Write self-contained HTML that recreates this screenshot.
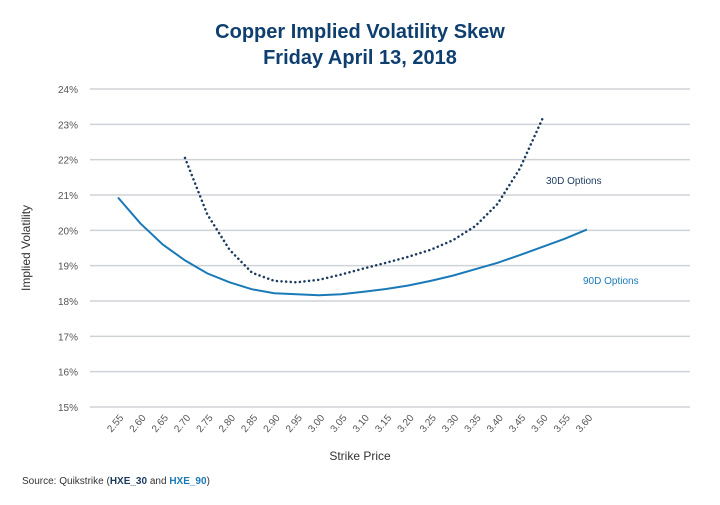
<!DOCTYPE html>
<html><head><meta charset="utf-8"><style>
body{margin:0;background:#fff;font-family:"Liberation Sans",sans-serif}
</style></head><body>
<svg width="720" height="500" xmlns="http://www.w3.org/2000/svg">
<text x="360" y="38" text-anchor="middle" font-size="20" font-weight="bold" fill="#0f3f6f">Copper Implied Volatility Skew</text>
<text x="360" y="64" text-anchor="middle" font-size="20" font-weight="bold" fill="#0f3f6f">Friday April 13, 2018</text>
<g id="grid"></g><g id="ylabels"></g><g id="xlabels"></g><g id="series"></g>
<text x="30" y="248" transform="rotate(-90 30 248)" text-anchor="middle" font-size="12" fill="#333">Implied Volatility</text>
<text x="360" y="460" text-anchor="middle" font-size="12" fill="#333">Strike Price</text>
<text x="546" y="184" font-size="10" fill="#1c3a5e">30D Options</text>
<text x="583" y="284" font-size="10" fill="#1a7ab8">90D Options</text>
<text x="22" y="484" font-size="10" fill="#333">Source: Quikstrike (<tspan font-weight="bold" fill="#1c3a5e">HXE_30</tspan> and <tspan font-weight="bold" fill="#1a7ab8">HXE_90</tspan>)</text>
</svg>
<script>
const categories=["2.55","2.60","2.65","2.70","2.75","2.80","2.85","2.90","2.95","3.00","3.05","3.10","3.15","3.20","3.25","3.30","3.35","3.40","3.45","3.50","3.55","3.60"];
const series90=[20.93,20.2,19.6,19.15,18.78,18.53,18.33,18.22,18.19,18.16,18.19,18.26,18.34,18.44,18.57,18.72,18.9,19.08,19.3,19.53,19.76,20.02];
const series30=[null,null,null,22.05,20.45,19.45,18.8,18.57,18.53,18.6,18.75,18.92,19.08,19.25,19.45,19.72,20.12,20.75,21.75,23.15,null,null];
const yTicks=[15,16,17,18,19,20,21,22,23,24];
const NS="http://www.w3.org/2000/svg";
const y=v=>407-(v-15)*(407-89)/9;
const x=i=>118+i*22.33;
function mk(t,a,p){const e=document.createElementNS(NS,t);for(const k in a)e.setAttribute(k,a[k]);document.getElementById(p).appendChild(e);return e;}
yTicks.forEach(t=>{
 const l=mk('line',{x1:90,x2:690,y1:y(t),y2:y(t),stroke:'#cfd2d6','stroke-width':1.5},'grid');
 
 
 const tx=mk('text',{x:78,y:y(t)+4,'text-anchor':'end','font-size':10,fill:'#555'},'ylabels');
 tx.textContent=t+'%';
 
 
});
categories.forEach((c,i)=>{
 const px=x(i)+6,py=418;
 const tx=mk('text',{x:px,y:py,'text-anchor':'end','font-size':10,fill:'#555',transform:`rotate(-50 ${px} ${py})`},'xlabels');
 tx.textContent=c;
 
 
});
function path(arr){let d='';arr.forEach((v,i)=>{if(v==null)return;d+=(d?'L':'M')+x(i).toFixed(1)+','+y(v).toFixed(1);});return d;}
const p90=mk('path',{d:path(series90),fill:'none',stroke:'#1a7ab8','stroke-width':2},'series');


const p30=mk('path',{d:path(series30),fill:'none',stroke:'#1c3a5e','stroke-width':2.5,'stroke-dasharray':'0.1 4.5','stroke-linecap':'round'},'series');


</script>
</body></html>
